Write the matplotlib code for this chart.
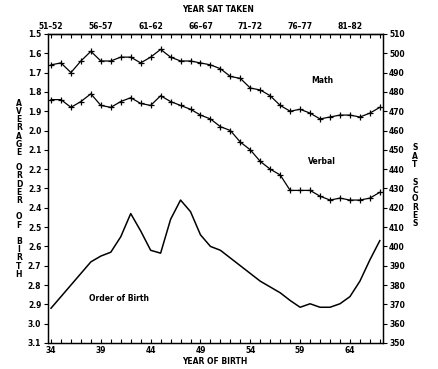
import matplotlib
matplotlib.use("Agg")
import matplotlib.pyplot as plt

# data
birth_years = list(range(34, 68))
math_scores = [494, 495, 490, 496, 501, 496, 496, 498, 498, 495,
               498, 502, 498, 496, 496, 495, 494, 492, 488, 487,
               482, 481, 478, 473, 470, 471, 469, 466, 467, 468,
               468, 467, 469, 472]
verbal_scores = [476, 476, 472, 475, 479, 473, 472, 475, 477, 474,
                 473, 478, 475, 473, 471, 468, 466, 462, 460, 454,
                 450, 444, 440, 437, 429, 429, 429, 426, 424, 425,
                 424, 424, 425, 428]
birth_order = [2.92, 2.86, 2.80, 2.74, 2.68, 2.65, 2.63, 2.55, 2.43, 2.52,
               2.62, 2.635, 2.46, 2.36, 2.42, 2.54, 2.60, 2.62, 2.66, 2.70,
               2.74, 2.78, 2.81, 2.84, 2.88, 2.915, 2.897, 2.915, 2.915, 2.897,
               2.86, 2.78, 2.67, 2.57]
sat_labels = ["51–52", "56–57", "61–62", "66–67", "71–72", "76–77", "81–82"]
birth_labels = [34, 39, 44, 49, 54, 59, 64]

fs = 5.5
plt.rcParams['font.family'] = 'DejaVu Sans'
plt.rcParams['font.weight'] = 'bold'
plt.rcParams['font.size'] = fs

fig = plt.figure(figsize=(4.38, 3.69), dpi=100)
ax = fig.add_axes([0.1085, 0.0705, 0.874 - 0.1085, 0.908 - 0.0705])

# order of birth on left axis
ax.plot(birth_years, birth_order, color='black', lw=1.1)
ax.set_xlim(33.65, 67.3)
ax.set_ylim(3.1, 1.5)
ax.set_yticks([1.5 + 0.1 * i for i in range(17)])
ax.set_yticklabels(["%.1f" % (1.5 + 0.1 * i) for i in range(17)])
ax.set_xticks(birth_years, minor=True)
ax.set_xticks(birth_labels)
ax.set_xticklabels([str(b) for b in birth_labels])
ax.tick_params(axis='x', which='both', direction='in', length=3, width=0.8, pad=2)
ax.tick_params(axis='y', direction='out', length=3, width=0.8, pad=1.5)

# SAT scores on right axis
ax2 = ax.twinx()
ax2.plot(birth_years, math_scores, color='black', lw=0.9, marker='+', ms=5, mew=0.9)
ax2.plot(birth_years, verbal_scores, color='black', lw=0.9, marker='+', ms=5, mew=0.9)
ax2.set_ylim(350, 510)
ax2.set_yticks(range(350, 511, 10))
ax2.tick_params(axis='y', direction='out', length=3, width=0.8, pad=1.5)

# top axis: year SAT taken
top = ax.secondary_xaxis('top')
top.set_xticks(birth_years, minor=True)
top.set_xticks(birth_labels, labels=sat_labels)
top.tick_params(axis='x', which='both', direction='in', length=3, width=0.8, pad=2)

for a in (ax, ax2):
    for s in a.spines.values():
        s.set_linewidth(0.9)
top.spines['top'].set_linewidth(0.9)

# series labels
ax2.text(61.2, 486, "Math", ha='center', va='center')
ax2.text(61.2, 444, "Verbal", ha='center', va='center')
ax.text(40.8, 2.87, "Order of Birth", ha='center', va='center')

# axis titles
fig.text(218 / 438, 1 - 10 / 369, "YEAR SAT TAKEN", ha='center', va='center')
fig.text(215 / 438, 1 - 362 / 369, "YEAR OF BIRTH", ha='center', va='center')

left_words = [("AVERAGE", 128), ("ORDER", 184), ("OF", 221), ("BIRTH", 258)]
for word, yc in left_words:
    fig.text(19 / 438, 1 - yc / 369, "\n".join(word), ha='center', va='center',
             linespacing=0.88)
right_words = [("SAT", 156), ("SCORES", 203)]
for word, yc in right_words:
    fig.text(415 / 438, 1 - yc / 369, "\n".join(word), ha='center', va='center',
             linespacing=0.88)

fig.savefig("out.png", dpi=100)
